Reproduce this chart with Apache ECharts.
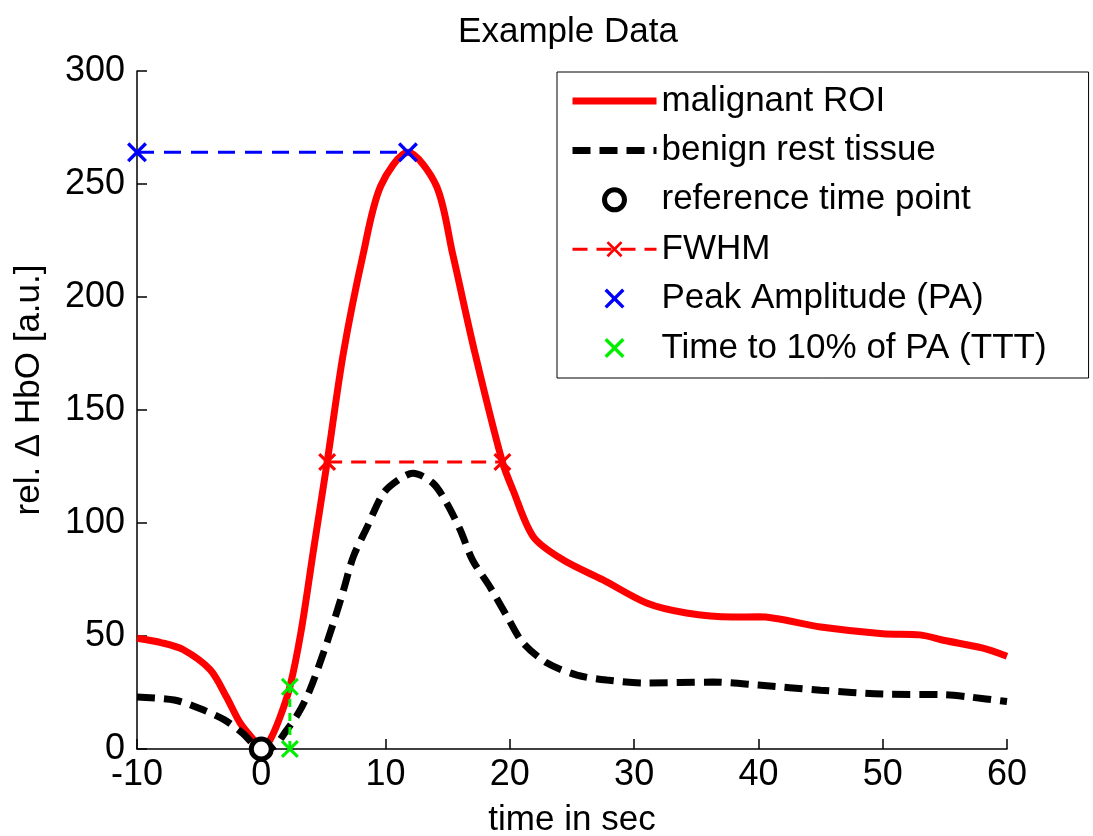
<!DOCTYPE html>
<html>
<head>
<meta charset="utf-8">
<script src="https://cdn.jsdelivr.net/npm/echarts@6.0.0/dist/echarts.min.js"></script>
<style>
  html, body { margin: 0; padding: 0; background: #fff; }
  #chart { width: 1093px; height: 836px; }
</style>
</head>
<body>
<div id="chart"></div>
<script>
// ------------------------------------------------------------
// Data
// ------------------------------------------------------------
const malignantTime = [-10, -8, -6.3, -4.1, -2.8, -1.7, -0.4, 0, 0.7, 1.5, 2.3, 3.2, 4.2, 5.3, 6.6, 8.2, 9.6, 11.8,
  14.1, 15.4, 17.2, 19.4, 20.25, 21.9, 24.3, 27.5, 31, 34.2, 37.9, 40, 45, 50, 53, 55, 58, 60];
const malignantValue = [49, 47, 44, 35, 23, 11.5, 2.6, 0, 4, 14, 27.5, 52, 88, 127, 175, 219, 249, 264,
  249, 219, 175, 127, 114.6, 93.8, 83.6, 74.8, 64.6, 60.2, 58.4, 58.5, 54, 51, 50.5, 48, 44.7, 41];

const benignTime = [-10, -7, -5, -3, -1.5, 0, 1, 2, 3, 3.9, 5.0, 5.8, 6.6, 7.4, 8.5, 9.8, 11, 12.2, 13.8, 14.9,
  16, 17, 18.4, 19.8, 21.05, 23, 25.4, 27.8, 31, 36.3, 40, 45, 50, 55, 57, 60];
const benignValue = [23, 21.7, 18, 13, 7, 0, 1, 8, 16, 26, 42.5, 55.8, 70, 85, 98, 113, 119, 122, 117.7, 109,
  97, 83.6, 71.7, 58.4, 47, 38, 32.7, 30.5, 29.2, 29.6, 28.3, 26, 24.3, 24, 23, 21];

const referencePoint = [0, 0];
const fwhmTime = [5.3, 19.4];
const fwhmValue = 127;
const peakTime = 11.8;
const peakValue = 264;
const tttTime = 2.3;
const tttValue = 27.5;

const xTicks = { min: -10, max: 60, interval: 10 };
const yTicks = { min: 0, max: 300, interval: 50 };

const zip = (xs, ys) => xs.map((x, i) => [x, ys[i]]);

// filled "x" marker
const crossPath = "path://M0,1.2 L1.2,0 L5,3.8 L8.8,0 L10,1.2 L6.2,5 L10,8.8 L8.8,10 L5,6.2 L1.2,10 L0,8.8 L3.8,5 Z";

const font = "'Liberation Sans', Arial, sans-serif";

const chart = echarts.init(document.getElementById("chart"), null, { renderer: "canvas" });

chart.setOption({
  animation: false,
  backgroundColor: "#fff",
  textStyle: { fontFamily: font, color: "#000" },
  title: {
    text: "Example Data",
    left: 563,
    top: 10,
    textAlign: "center",
    textStyle: { fontSize: 35, fontWeight: "normal", color: "#000", fontFamily: font },
  },
  grid: {
    left: 137,
    right: 86,
    top: 71,
    bottom: 87,
    containLabel: false,
    outerBoundsMode: "none",
  },
  legend: {
    orient: "vertical",
    left: 557,
    top: 72,
    padding: [11, 42, 12, 12],
    backgroundColor: "#fff",
    borderColor: "#000",
    borderWidth: 1,
    borderRadius: 0,
    itemWidth: 84,
    itemHeight: 20,
    itemGap: 13.4,
    symbolKeepAspect: true,
    selectedMode: false,
    lineStyle: { width: "inherit" },
    itemStyle: { borderWidth: "inherit" },
    textStyle: { fontSize: 35, lineHeight: 36, color: "#000", fontFamily: font },
    data: [
      { name: "malignant ROI", itemStyle: { opacity: 0 } },
      { name: "benign rest tissue", itemStyle: { opacity: 0 } },
      "reference time point",
      "FWHM",
      "Peak Amplitude (PA)",
      "Time to 10% of PA (TTT)",
    ],
  },
  xAxis: {
    type: "value",
    min: xTicks.min,
    max: xTicks.max,
    interval: xTicks.interval,
    name: "time in sec",
    nameLocation: "middle",
    nameGap: 54,
    nameTextStyle: { fontSize: 35, color: "#000", fontFamily: font },
    axisLine: { onZero: false, lineStyle: { color: "#000", width: 1.5 } },
    axisTick: { inside: true, length: 10, lineStyle: { color: "#000", width: 1.5 } },
    axisLabel: { fontSize: 36, color: "#000", margin: 8, fontFamily: font },
    splitLine: { show: false },
  },
  yAxis: {
    type: "value",
    min: yTicks.min,
    max: yTicks.max,
    interval: yTicks.interval,
    name: "rel. Δ HbO [a.u.]",
    nameLocation: "middle",
    nameGap: 90,
    nameTextStyle: { fontSize: 35, color: "#000", fontFamily: font, padding: [0, 0, 0, 40] },
    axisLine: { show: true, onZero: false, lineStyle: { color: "#000", width: 1.5 } },
    axisTick: { show: true, inside: true, length: 10, lineStyle: { color: "#000", width: 1.5 } },
    axisLabel: { fontSize: 36, color: "#000", margin: 12, fontFamily: font },
    splitLine: { show: false },
  },
  series: [
    {
      name: "malignant ROI",
      type: "line",
      data: zip(malignantTime, malignantValue),
      smooth: 0.3,
      symbol: "none",
      lineStyle: { color: "#ff0000", width: 7 },
      itemStyle: { color: "#ff0000" },
      z: 2,
    },
    {
      name: "benign rest tissue",
      type: "line",
      data: zip(benignTime, benignValue),
      smooth: 0.3,
      symbol: "none",
      lineStyle: { color: "#000", width: 7, type: [18, 9] },
      itemStyle: { color: "#000" },
      z: 3,
    },
    {
      name: "PA line",
      type: "line",
      data: [[xTicks.min, peakValue], [peakTime, peakValue]],
      symbol: "none",
      lineStyle: { color: "#0000ff", width: 3, type: [17, 10] },
      z: 4,
    },
    {
      name: "TTT line",
      type: "line",
      data: [[tttTime, 0], [tttTime, tttValue]],
      symbol: "none",
      lineStyle: { color: "#00ee00", width: 3, type: [8, 6] },
      z: 4,
    },
    {
      name: "FWHM",
      type: "line",
      data: fwhmTime.map((t) => [t, fwhmValue]),
      symbol: crossPath,
      symbolSize: 18,
      showSymbol: true,
      lineStyle: { color: "#ff0000", width: 3, type: [15, 9] },
      itemStyle: { color: "#ff0000" },
      z: 5,
    },
    {
      name: "reference time point",
      type: "scatter",
      data: [referencePoint],
      symbol: "circle",
      symbolSize: 20,
      itemStyle: { color: "#fff", borderColor: "#000", borderWidth: 5, opacity: 1 },
      z: 6,
    },
    {
      name: "Peak Amplitude (PA)",
      type: "scatter",
      data: [[xTicks.min, peakValue], [peakTime, peakValue]],
      symbol: crossPath,
      symbolSize: 20,
      itemStyle: { color: "#0000ff", opacity: 1 },
      z: 6,
    },
    {
      name: "Time to 10% of PA (TTT)",
      type: "scatter",
      data: [[tttTime, tttValue], [tttTime, 0]],
      symbol: crossPath,
      symbolSize: 18,
      itemStyle: { color: "#00ee00", opacity: 1 },
      z: 6,
    },
  ],
});
</script>
</body>
</html>
